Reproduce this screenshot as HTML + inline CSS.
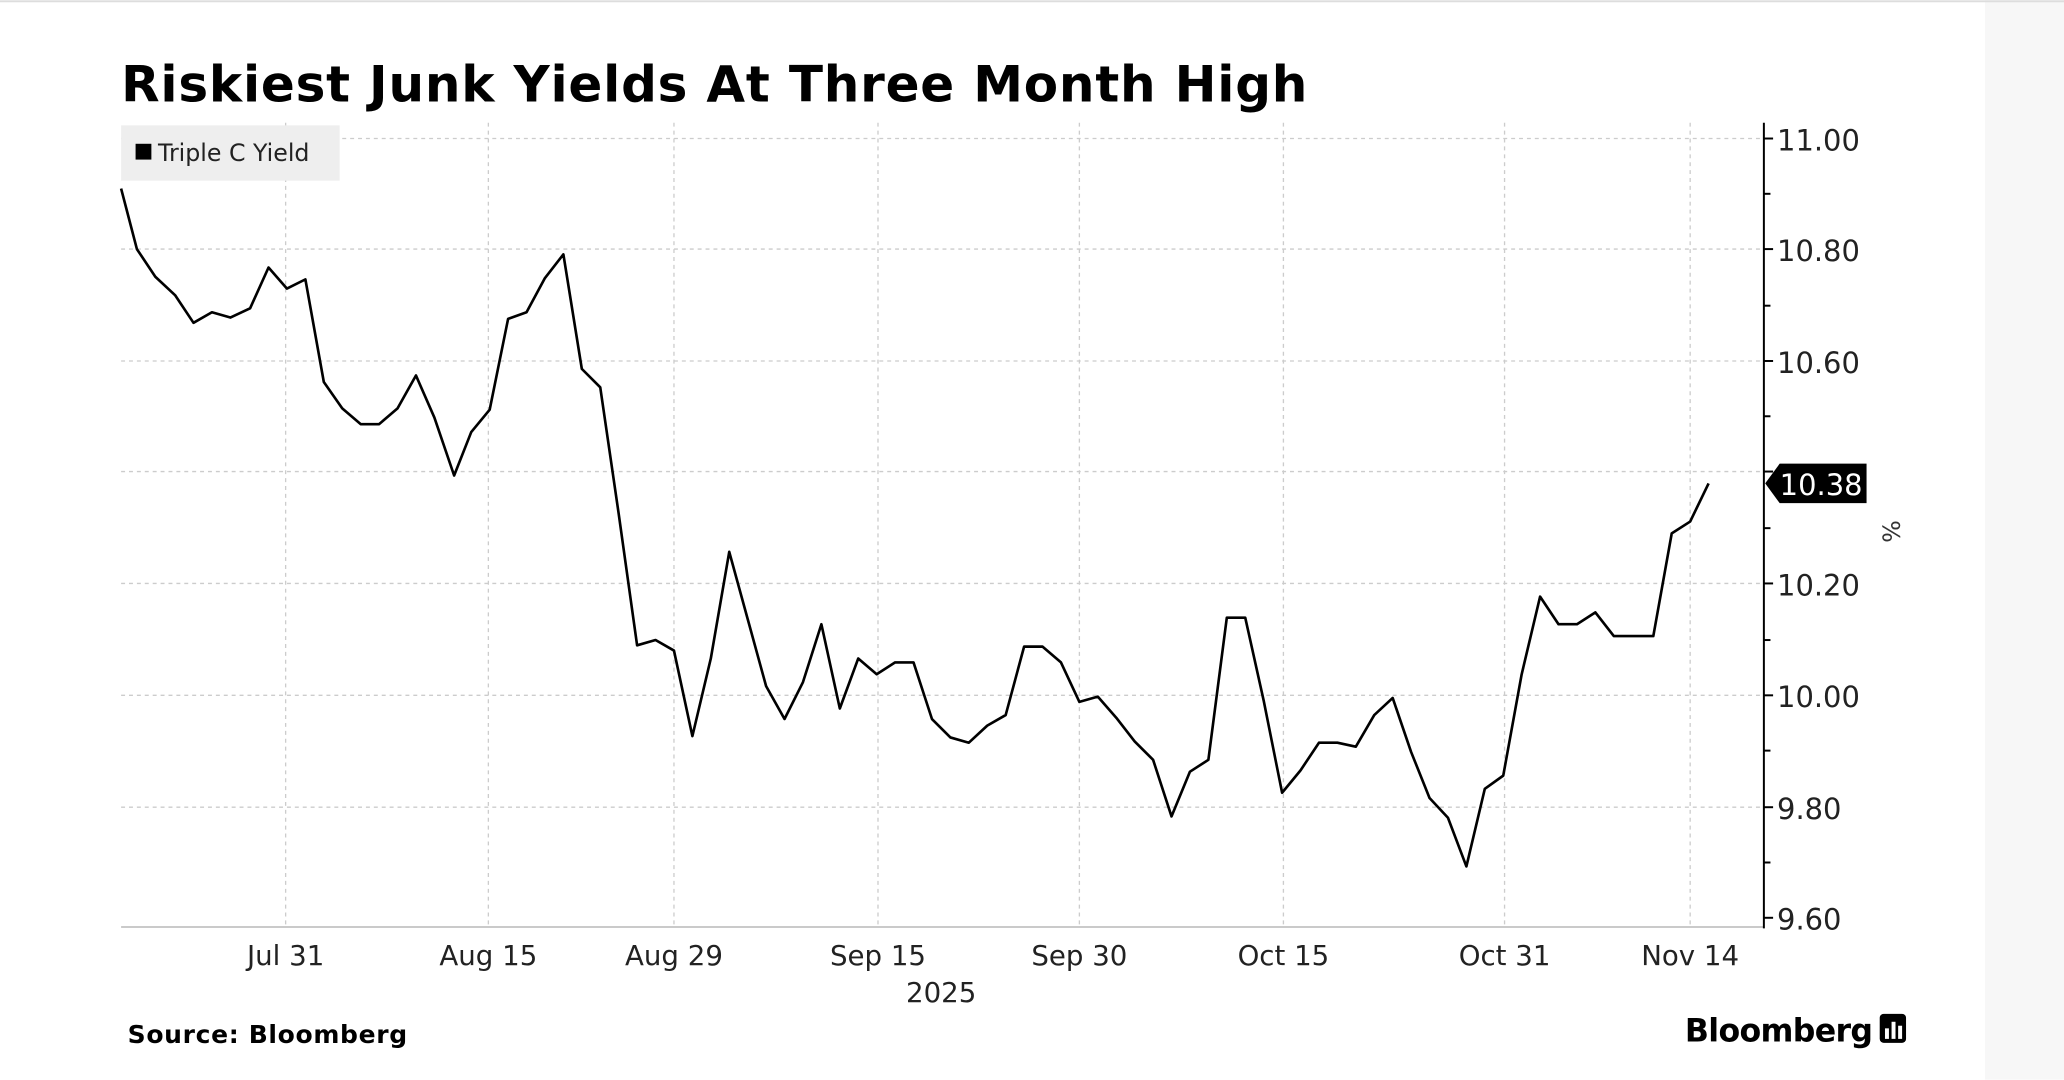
<!DOCTYPE html>
<html><head><meta charset="utf-8"><style>
html,body{margin:0;padding:0;background:#fff;}
svg{display:block;}
text{font-family:"DejaVu Sans","Liberation Sans",sans-serif;}
</style></head><body>
<svg width="2064" height="1080" viewBox="0 0 1568 820" xmlns="http://www.w3.org/2000/svg">
<rect width="1568" height="820" fill="#fff"/>
<rect x="1508" y="0" width="60" height="820" fill="#f7f7f7"/>
<rect x="0" y="0" width="1568" height="1.5" fill="#ddd"/>
<text x="92" y="77" font-size="38" font-weight="bold" fill="#000" letter-spacing="0.6">Riskiest Junk Yields At Three Month High</text>
<g stroke="#ccc" stroke-width="1" stroke-dasharray="3,3">
<line x1="92" x2="1340" y1="105" y2="105"/><line x1="92" x2="1340" y1="189" y2="189"/>
<line x1="92" x2="1340" y1="274" y2="274"/><line x1="92" x2="1340" y1="358" y2="358"/>
<line x1="92" x2="1340" y1="443" y2="443"/><line x1="92" x2="1340" y1="528" y2="528"/>
<line x1="92" x2="1340" y1="613" y2="613"/>
<line x1="217" x2="217" y1="93" y2="705"/><line x1="371" x2="371" y1="93" y2="705"/>
<line x1="512" x2="512" y1="93" y2="705"/><line x1="667" x2="667" y1="93" y2="705"/>
<line x1="820" x2="820" y1="93" y2="705"/><line x1="975" x2="975" y1="93" y2="705"/>
<line x1="1143" x2="1143" y1="93" y2="705"/><line x1="1284" x2="1284" y1="93" y2="705"/>
</g>
<line x1="92" x2="1340" y1="704" y2="704" stroke="#aaa" stroke-width="1"/>
<rect x="92" y="95" width="166" height="42" fill="#eeeeee"/>
<rect x="103" y="109" width="12" height="12" fill="#000"/>
<text x="120" y="122" font-size="18" fill="#222">Triple C Yield</text>
<polyline fill="none" stroke="#000" stroke-width="2" stroke-linejoin="round" points="92,143 104,189 118,210 133,224 147,245 161,237 175,241 190,234 204,203 218,219 232,212 246,290 260,310 274,322 288,322 302,310 316,285 330,317 345,361 358,328 372,311 386,242 400,237 414,211 428,193 442,280 456,294 470,390 484,490 498,486 512,494 526,559 540,500 554,419 568,470 582,521 596,546 610,518 624,474 638,538 652,500 666,512 680,503 694,503 708,546 722,560 736,564 750,551 764,543 778,491 792,491 806,503 820,533 834,529 848,545 862,563 876,577 890,620 904,586 918,577 932,469 946,469 960,532 974,602 988,585 1002,564 1016,564 1030,567 1044,543 1058,530 1072,571 1086,606 1100,621 1114,658 1128,599 1142,589 1156,512 1170,453 1184,474 1198,474 1212,465 1226,483 1240,483 1256,483 1270,405 1284,396 1298,367"/>
<line x1="1340" x2="1340" y1="93" y2="705" stroke="#000" stroke-width="1.5"/>
<g stroke="#000" stroke-width="1.5">
<line x1="1340" x2="1347" y1="105" y2="105"/><line x1="1340" x2="1345" y1="147" y2="147"/>
<line x1="1340" x2="1347" y1="189" y2="189"/><line x1="1340" x2="1345" y1="232" y2="232"/>
<line x1="1340" x2="1347" y1="274" y2="274"/><line x1="1340" x2="1345" y1="316" y2="316"/>
<line x1="1340" x2="1347" y1="358" y2="358"/><line x1="1340" x2="1345" y1="401" y2="401"/>
<line x1="1340" x2="1347" y1="443" y2="443"/><line x1="1340" x2="1345" y1="486" y2="486"/>
<line x1="1340" x2="1347" y1="528" y2="528"/><line x1="1340" x2="1345" y1="570" y2="570"/>
<line x1="1340" x2="1347" y1="613" y2="613"/><line x1="1340" x2="1345" y1="655" y2="655"/>
<line x1="1340" x2="1347" y1="697" y2="697"/>
</g>
<g font-size="22" fill="#222">
<text x="1350" y="114">11.00</text><text x="1350" y="198">10.80</text>
<text x="1350" y="283">10.60</text><text x="1350" y="452">10.20</text>
<text x="1350" y="537">10.00</text><text x="1350" y="622">9.80</text>
<text x="1350" y="706">9.60</text>
</g>
<polygon points="1341,367 1352,352 1418,352 1418,382 1352,382" fill="#000"/>
<text x="1352" y="376" font-size="22" fill="#fff">10.38</text>
<text x="0" y="0" font-size="18" fill="#333" transform="translate(1430,395) rotate(90)">%</text>
<g font-size="21" fill="#222" text-anchor="middle">
<text x="217" y="733">Jul 31</text><text x="371" y="733">Aug 15</text>
<text x="512" y="733">Aug 29</text><text x="667" y="733">Sep 15</text>
<text x="820" y="733">Sep 30</text><text x="975" y="733">Oct 15</text>
<text x="1143" y="733">Oct 31</text><text x="1284" y="733">Nov 14</text>
<text x="715" y="761">2025</text>
</g>
<text x="97" y="792" font-size="19" font-weight="bold" fill="#000" letter-spacing="0.5">Source: Bloomberg</text>
<text x="1280" y="791" font-size="24" font-weight="bold" fill="#000" letter-spacing="-0.5">Bloomberg</text>
<rect x="1428" y="770" width="20" height="22" rx="3" fill="#000"/>
<g fill="#fff"><rect x="1432" y="781" width="3" height="8"/><rect x="1437" y="776" width="3" height="13"/><rect x="1442" y="779" width="3" height="10"/></g>
</svg>
</body></html>
